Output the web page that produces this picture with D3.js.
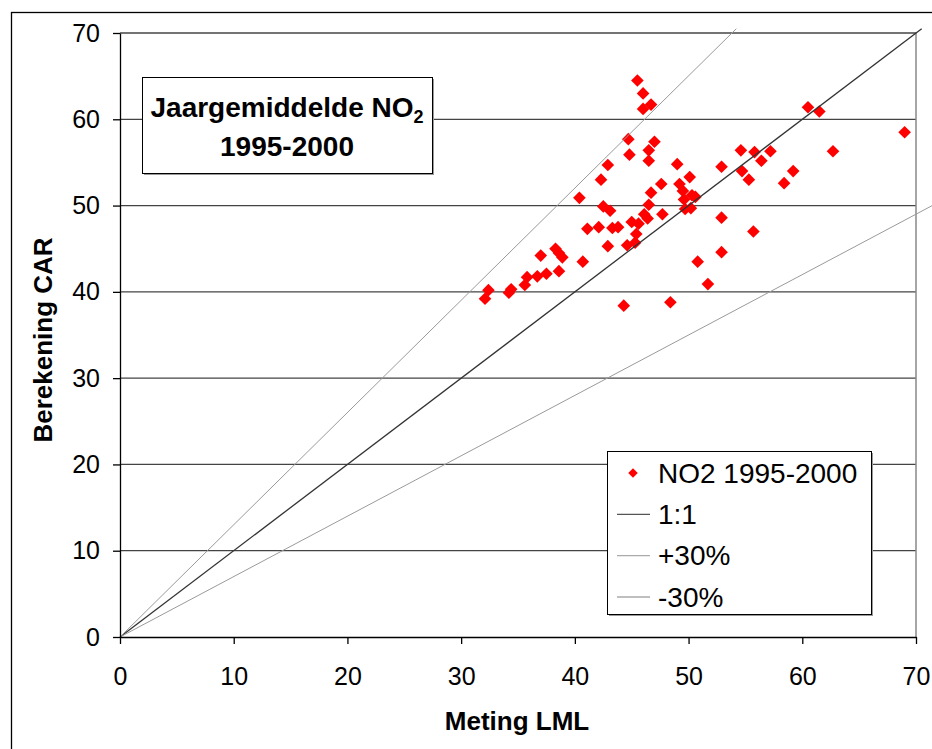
<!DOCTYPE html>
<html>
<head>
<meta charset="utf-8">
<script src="https://cdn.jsdelivr.net/npm/d3@7"></script>
<style>
  body { margin: 0; background: #fff; }
  text { font-family: Arial, "Liberation Sans", sans-serif; }
</style>
</head>
<body>
<script>
const width = 932;
const height = 749;

// NO2 jaargemiddelden: meting (x) tegen berekening (y)
const metingLML = [
  45.5, 46.0, 46.7, 46.0, 44.7, 47.0, 46.5, 44.8, 46.5, 49.0,
  42.9, 50.1, 42.3, 47.6, 49.2, 49.5, 50.3, 50.6, 46.7, 40.4,
  49.6, 46.5, 42.5, 43.1, 49.7, 50.2, 46.1, 46.4, 47.7, 45.0,
  45.6, 41.1, 42.1, 43.3, 43.8, 45.4, 42.9, 44.6, 45.3, 38.3,
  38.6, 38.9, 37.0, 40.7, 38.6, 37.5, 36.7, 35.8, 35.6, 34.4,
  34.2, 32.4, 32.1, 52.9, 52.9, 50.8, 51.7, 48.4, 44.3, 60.5,
  61.5, 69.0, 62.7, 54.6, 55.8, 57.2, 56.4, 52.9, 54.7, 55.3,
  59.2, 58.4, 55.7
];
const berekeningCAR = [
  64.5, 63.0, 61.7, 61.2, 57.7, 57.4, 56.4, 55.9, 55.2, 54.8,
  54.7, 53.3, 53.0, 52.5, 52.5, 51.7, 51.2, 51.0, 51.5, 50.9,
  50.7, 50.1, 49.9, 49.4, 49.6, 49.7, 49.0, 48.5, 49.0, 48.1,
  47.9, 47.3, 47.5, 47.4, 47.5, 46.7, 45.3, 45.4, 45.7, 45.0,
  44.5, 44.0, 44.2, 43.5, 42.4, 42.1, 41.8, 41.7, 40.8, 40.3,
  39.9, 40.2, 39.2, 48.6, 44.6, 43.5, 40.9, 38.8, 38.4, 61.4,
  60.9, 58.5, 56.3, 56.4, 56.2, 56.3, 55.2, 54.5, 54.0, 53.0,
  54.0, 52.6, 47.0
];

// referentielijnen (begin- en eindpunt)
const lineNames = ['1:1', '+30%', '-30%'];
const lineColors = ['#333333', '#9a9a9a', '#9a9a9a'];
const lineX1 = [70.5, 54.2, 71.5];
const lineY1 = [70.5, 70.5, 50.05];

const ticks = [0, 10, 20, 30, 40, 50, 60, 70];
const seriesName = 'NO2 1995-2000';

const x = d3.scaleLinear().domain([0, 70]).range([120, 916]);
const y = d3.scaleLinear().domain([0, 70]).range([637, 33]);

let svg;

render();

function render() {
  svg = d3.select('body')
    .append('svg')
    .attr('width', width)
    .attr('height', height);

  svg.append('rect')
    .attr('width', width)
    .attr('height', height)
    .attr('fill', '#fff');

  // kader rond de figuur
  svg.append('rect')
    .attr('x', 11.5)
    .attr('y', 12.5)
    .attr('width', 1000)
    .attr('height', 1000)
    .attr('fill', 'none')
    .attr('stroke', '#000')
    .attr('stroke-width', 1.3);

  renderGrid();
  renderPoints();
  renderLines();
  renderAxes();
  renderTitleBox();
  renderLegend();
}

function renderGrid() {
  svg.append('g')
    .selectAll('line')
    .data(ticks.slice(1))
    .enter()
    .append('line')
    .attr('x1', x(0))
    .attr('x2', x(70))
    .attr('y1', d => y(d))
    .attr('y2', d => y(d))
    .attr('stroke', '#444')
    .attr('stroke-width', 1.3);

  svg.append('line')
    .attr('x1', x(70))
    .attr('x2', x(70))
    .attr('y1', y(70))
    .attr('y2', y(0))
    .attr('stroke', '#888')
    .attr('stroke-width', 1.5);
}

function renderPoints() {
  const diamond = d3.symbol(d3.symbolSquare, 80);
  svg.append('g')
    .selectAll('path')
    .data(metingLML.map((m, i) => ({x: m, y: berekeningCAR[i]})))
    .enter()
    .append('path')
    .attr('d', diamond)
    .attr('transform', d => `translate(${x(d.x)},${y(d.y)}) rotate(45)`)
    .attr('fill', '#ff0000');
}

function renderLines() {
  svg.append('g')
    .selectAll('line')
    .data(lineNames)
    .enter()
    .append('line')
    .attr('x1', x(0))
    .attr('y1', y(0))
    .attr('x2', (d, i) => x(lineX1[i]))
    .attr('y2', (d, i) => y(lineY1[i]))
    .attr('stroke', (d, i) => lineColors[i])
    .attr('stroke-width', (d, i) => i === 0 ? 1.3 : 1);
}

function renderAxes() {
  const gx = svg.append('g')
    .attr('transform', `translate(0,${y(0)})`)
    .call(d3.axisBottom(x).tickValues(ticks).tickSize(7).tickPadding(23).tickSizeOuter(0));

  const gy = svg.append('g')
    .attr('transform', `translate(${x(0)},0)`)
    .call(d3.axisLeft(y).tickValues(ticks).tickSize(7).tickPadding(13).tickSizeOuter(0));

  [gx, gy].forEach(g => {
    g.attr('font-family', 'Arial, "Liberation Sans", sans-serif')
      .attr('font-size', 25);
    g.selectAll('path, line').attr('stroke', '#000').attr('stroke-width', 1.3);
    g.selectAll('text').attr('fill', '#000');
  });

  svg.append('text')
    .attr('x', 517)
    .attr('y', 730)
    .attr('text-anchor', 'middle')
    .attr('font-size', 26)
    .attr('font-weight', 'bold')
    .text('Meting LML');

  svg.append('text')
    .attr('transform', 'translate(52,340) rotate(-90)')
    .attr('text-anchor', 'middle')
    .attr('font-size', 26)
    .attr('font-weight', 'bold')
    .text('Berekening CAR');
}

function renderTitleBox() {
  const g = svg.append('g');
  g.append('rect')
    .attr('x', 144)
    .attr('y', 79)
    .attr('width', 290)
    .attr('height', 96)
    .attr('fill', '#999');
  g.append('rect')
    .attr('x', 142.5)
    .attr('y', 77.5)
    .attr('width', 290)
    .attr('height', 96)
    .attr('fill', '#fff')
    .attr('stroke', '#000')
    .attr('stroke-width', 1);

  const t1 = g.append('text')
    .attr('x', 287)
    .attr('y', 117)
    .attr('text-anchor', 'middle')
    .attr('font-size', 28)
    .attr('font-weight', 'bold');
  t1.append('tspan').text('Jaargemiddelde NO');
  t1.append('tspan')
    .attr('font-size', 18)
    .attr('dy', 6)
    .text('2');

  g.append('text')
    .attr('x', 287)
    .attr('y', 156)
    .attr('text-anchor', 'middle')
    .attr('font-size', 28)
    .attr('font-weight', 'bold')
    .text('1995-2000');
}

function renderLegend() {
  const g = svg.append('g');
  g.append('rect')
    .attr('x', 609)
    .attr('y', 453)
    .attr('width', 264)
    .attr('height', 163)
    .attr('fill', '#999');
  g.append('rect')
    .attr('x', 607.5)
    .attr('y', 451.5)
    .attr('width', 264)
    .attr('height', 163)
    .attr('fill', '#fff')
    .attr('stroke', '#000')
    .attr('stroke-width', 1);

  const labels = [seriesName].concat(lineNames);
  const rowY = d3.scalePoint().domain(d3.range(labels.length)).range([473, 597]);

  g.append('path')
    .attr('d', d3.symbol(d3.symbolSquare, 45))
    .attr('transform', `translate(633,${rowY(0)}) rotate(45)`)
    .attr('fill', '#ff0000');

  g.selectAll('line.key')
    .data(lineNames)
    .enter()
    .append('line')
    .attr('class', 'key')
    .attr('x1', 617)
    .attr('x2', 650)
    .attr('y1', (d, i) => rowY(i + 1))
    .attr('y2', (d, i) => rowY(i + 1))
    .attr('stroke', (d, i) => i === 0 ? '#555' : '#aaa')
    .attr('stroke-width', 1.3);

  g.selectAll('text.label')
    .data(labels)
    .enter()
    .append('text')
    .attr('class', 'label')
    .attr('x', 658)
    .attr('y', (d, i) => rowY(i))
    .attr('dy', '0.35em')
    .attr('font-size', 28)
    .text(d => d);
}
</script>
</body>
</html>
